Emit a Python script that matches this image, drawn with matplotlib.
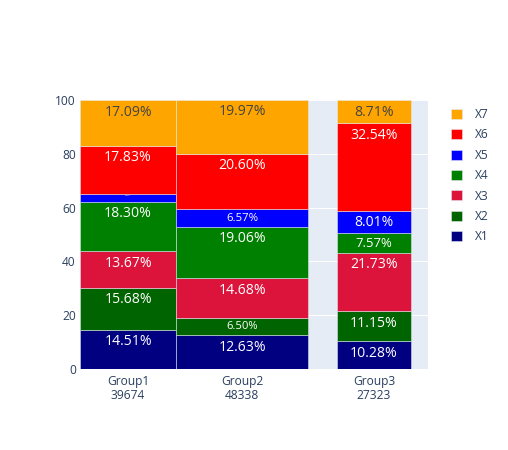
import numpy as np
import matplotlib
matplotlib.use('Agg')
import matplotlib.pyplot as plt
from matplotlib.patches import Patch

# data (percent share of each category per group)
groups = ['Group1', 'Group2', 'Group3']
totals = [39674, 48338, 27323]
series = ['X1', 'X2', 'X3', 'X4', 'X5', 'X6', 'X7']
X1 = [14.51, 12.63, 10.28]
X2 = [15.68, 6.50, 11.15]
X3 = [13.67, 14.68, 21.73]
X4 = [18.30, 19.06, 7.57]
X5 = [2.92, 6.57, 8.01]
X6 = [17.83, 20.60, 32.54]
X7 = [17.09, 19.97, 8.71]

colors = ['#000080', '#006400', '#DC143C', '#008000', '#0000FF', '#FF0000', '#FFA500']
text_colors = ['white'] * 6 + ['#444444']

# bar geometry (x axis units, as drawn)
bar_left = [0, 96, 257]
bar_width = [96, 132, 74]
x_range = (0, 348)

px = 1 / 100  # inch per pixel at dpi 100
pt = 0.72     # points per pixel

plt.rcParams['font.family'] = ['Open Sans', 'DejaVu Sans']

fig = plt.figure(figsize=(508 * px, 450 * px), dpi=100)
ax = fig.add_axes([80 / 508, 1 - 369 / 450, 348 / 508, 269 / 450])
ax.set_facecolor('#E5ECF6')
ax.set_xlim(*x_range)
ax.set_ylim(0, 100)
for s in ax.spines.values():
    s.set_visible(False)
ax.set_yticks(np.arange(0, 101, 20))
ax.yaxis.grid(True, color='white', linewidth=1 * pt)
ax.set_axisbelow(True)

data = [X1, X2, X3, X4, X5, X6, X7]
bottom = np.zeros(len(groups))
seg_px = 269 / 100  # pixels per percent
for k in range(len(series)):
    vals = np.asarray(data[k])
    ax.bar(bar_left, vals, width=bar_width, bottom=bottom, align='edge',
           color=colors[k], edgecolor='#E5ECF6', linewidth=0.5 * pt, label=series[k])
    for j in range(len(groups)):
        h = vals[j] * seg_px
        scale = min(1.0, h / 21.7) if h > 12 else 0.15
        ax.annotate(f'{vals[j]:.2f}%',
                    xy=(bar_left[j] + bar_width[j] / 2, bottom[j] + vals[j]),
                    xytext=(0, -4.5 * pt * scale), textcoords='offset points',
                    ha='center', va='top', color=text_colors[k],
                    fontsize=14 * pt * scale)
    bottom += vals

ax.set_xticks([l + w / 2 for l, w in zip(bar_left, bar_width)])
ax.set_xticklabels([f'{g}\n{t}' for g, t in zip(groups, totals)], linespacing=1.1)
ax.tick_params(axis='both', length=0, labelsize=12 * pt, labelcolor='#2a3f5f')
ax.tick_params(axis='x', pad=4)
ax.tick_params(axis='y', pad=3)

handles = [Patch(facecolor=colors[k], edgecolor='#E5ECF6', linewidth=0.5 * pt)
           for k in range(len(series))][::-1]
leg = fig.legend(handles, series[::-1], loc='upper left',
                 bbox_to_anchor=(446 / 508, 1 - 103 / 450), frameon=False,
                 fontsize=12 * pt, handlelength=0.9, handleheight=0.9,
                 labelspacing=0.62, handletextpad=1.1, borderaxespad=0)
for t in leg.get_texts():
    t.set_color('#2a3f5f')

fig.savefig('out.png', dpi=100)
